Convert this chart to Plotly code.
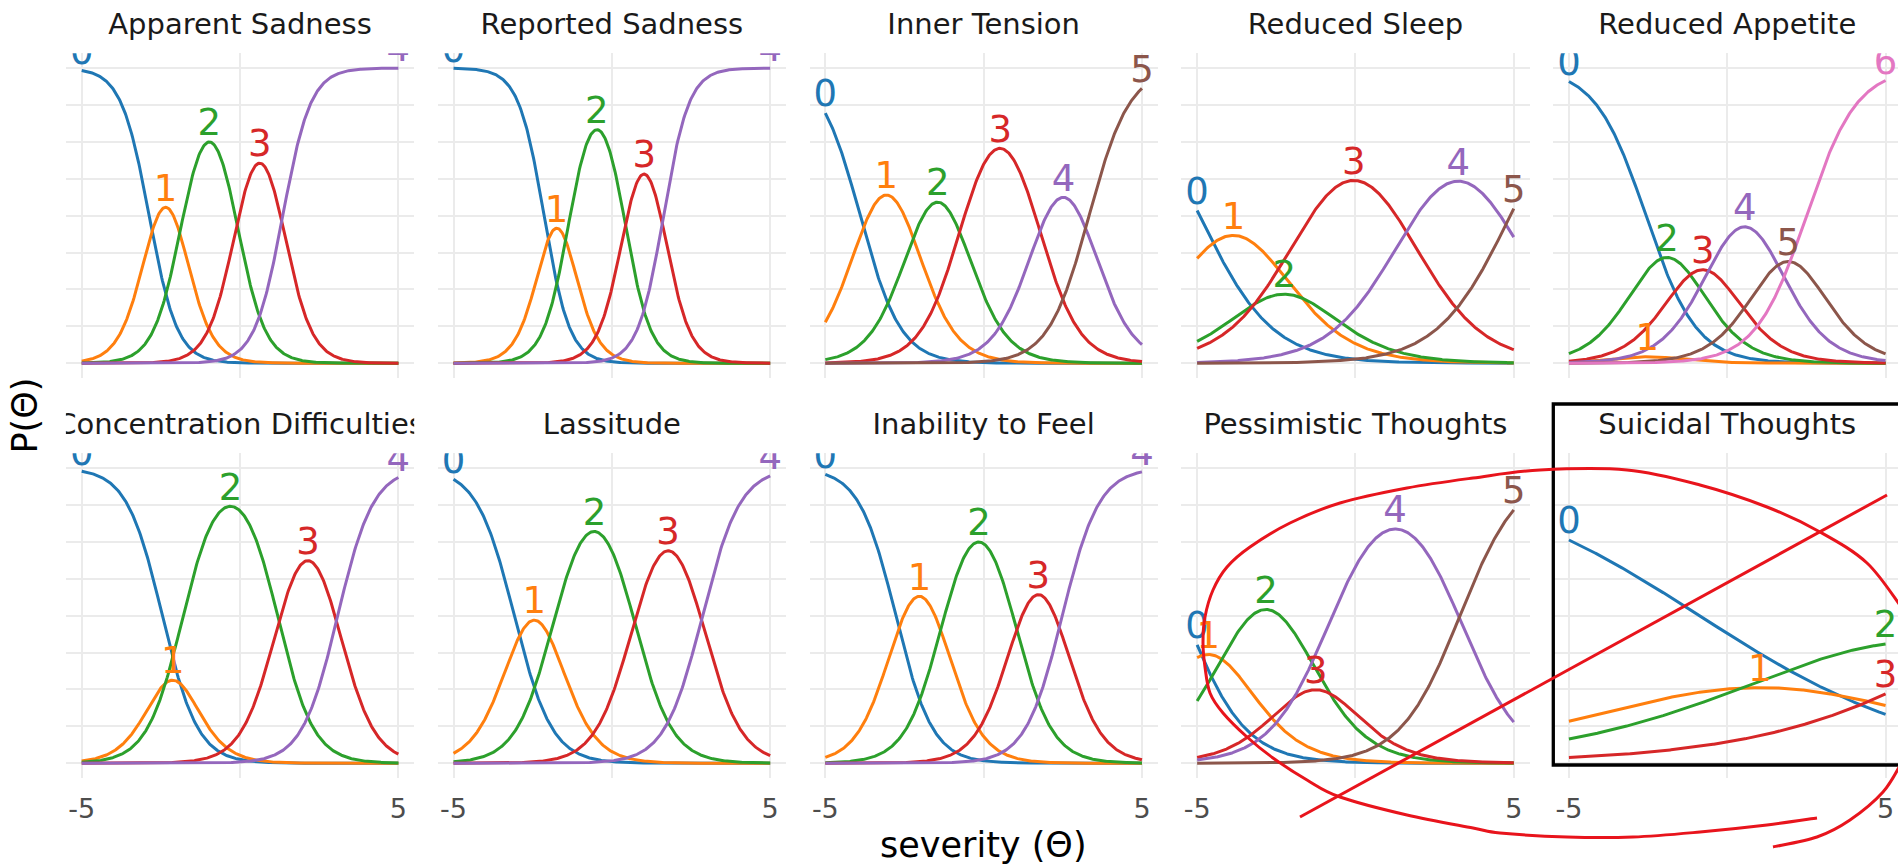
import numpy as np
import plotly.graph_objects as go

# -------------------------------
# item trace lines (graded response model)
# slopes / thresholds
# -------------------------------
items = [
    "Apparent Sadness", "Reported Sadness", "Inner Tension", "Reduced Sleep",
    "Reduced Appetite", "Concentration Difficulties", "Lassitude",
    "Inability to Feel", "Pessimistic Thoughts", "Suicidal Thoughts",
]
slopes = [2.26, 2.47, 1.56, 0.875, 1.25, 1.78, 1.68, 1.72, 1.06, 0.275]
thresholds = [
    [-2.87, -1.83, -0.11, 1.35],
    [-2.14, -1.34, 0.40, 1.63],
    [-3.90, -2.24, -0.67, 1.70, 3.33],
    [-4.92, -2.80, -1.71, 1.60, 4.89],
    [-2.57, -2.50, -1.30, -0.25, 1.35, 2.50],
    [-2.455, -1.805, 1.195, 3.085],
    [-3.08, -1.82, 0.70, 2.86],
    [-2.775, -1.285, 0.975, 2.485],
    [-5.38, -3.92, -1.74, -0.78, 3.30],
    [-0.88, 2.93, 9.30],
]
theta_min, theta_max = -5, 5
x_tick_vals = [-5, 0, 5]
x_tick_text = ["-5", "", "5"]
cat_colors = ["#1f77b4", "#ff7f0e", "#2ca02c", "#d62728", "#9467bd", "#8c564b", "#e377c2"]

W, H = 1902, 864
theta = np.linspace(theta_min, theta_max, 401)


def category_probs(a, bs):
    # cumulative P(X >= k), then differences
    star = [np.ones_like(theta)]
    star += [1 / (1 + np.exp(-a * (theta - b))) for b in bs]
    star.append(np.zeros_like(theta))
    return [star[k] - star[k + 1] for k in range(len(bs) + 1)]


def px_dom_x(x0, x1):
    return [x0 / W, min(x1 / W, 1.0)]


def px_dom_y(top, bottom):
    return [1 - bottom / H, 1 - top / H]


fig = go.Figure()
layout = dict(
    width=W, height=H, autosize=False,
    margin=dict(l=0, r=0, t=0, b=0),
    paper_bgcolor="white", plot_bgcolor="white",
    showlegend=False,
    font=dict(family="DejaVu Sans"),
)

panel_w = 348.3
col_step = 371.8
label_lift = 0.054  # label sits just above the curve maximum

for i, name in enumerate(items):
    r, c = divmod(i, 5)
    left = 65.9 + col_step * c
    top = 53.3 + 400 * r
    bottom = 378.0 + 400 * r
    k = i + 1
    xs = "" if k == 1 else str(k)

    probs = category_probs(slopes[i], thresholds[i])
    for j, p in enumerate(probs):
        fig.add_trace(go.Scatter(
            x=theta, y=p, mode="lines", xaxis="x" + xs, yaxis="y" + xs,
            line=dict(color=cat_colors[j], width=3), hoverinfo="skip",
        ))
    for j, p in enumerate(probs):
        m = int(np.argmax(p))
        fig.add_trace(go.Scatter(
            x=[theta[m]], y=[p[m] + label_lift], mode="text", text=[str(j)],
            textposition="middle center", cliponaxis=True,
            textfont=dict(family="DejaVu Sans", size=37, color=cat_colors[j]),
            xaxis="x" + xs, yaxis="y" + xs, hoverinfo="skip",
        ))

    layout["xaxis" + xs] = dict(
        domain=px_dom_x(left, left + panel_w), anchor="y" + xs,
        range=[-5.5, 5.5], tickvals=x_tick_vals, ticktext=x_tick_text,
        showticklabels=(r == 1), ticks="outside" if r == 1 else "",
        ticklen=7, tickcolor="rgba(0,0,0,0)",
        tickfont=dict(family="DejaVu Sans", size=27, color="#4D4D4D"),
        showgrid=True, gridcolor="#EBEBEB", gridwidth=2,
        zeroline=False, showline=False,
    )
    layout["yaxis" + xs] = dict(
        domain=px_dom_y(top, bottom), anchor="x" + xs,
        range=[-0.05, 1.05], tickvals=list(np.arange(0, 1.01, 0.125)),
        showticklabels=False, showgrid=True, gridcolor="#EBEBEB", gridwidth=2,
        zeroline=False, showline=False,
    )

    # strip title on its own clipped axis so long names get cut at panel edges
    sk = str(k + 10)
    fig.add_trace(go.Scatter(
        x=[0.5], y=[27], mode="text", text=[name], textposition="middle center",
        cliponaxis=True, hoverinfo="skip",
        textfont=dict(family="DejaVu Sans", size=29, color="#1A1A1A"),
        xaxis="x" + sk, yaxis="y" + sk,
    ))
    layout["xaxis" + sk] = dict(domain=px_dom_x(left, left + panel_w), anchor="y" + sk,
                                range=[0, 1], visible=False, fixedrange=True)
    layout["yaxis" + sk] = dict(domain=px_dom_y(400 * r, 53.3 + 400 * r), anchor="x" + sk,
                                range=[53.3, 0], visible=False, fixedrange=True)

fig.update_layout(**layout)

fig.add_annotation(text="severity (Θ)", x=983.6 / W, y=1 - 845 / H, xref="paper", yref="paper",
                   xanchor="center", yanchor="middle", showarrow=False,
                   font=dict(family="DejaVu Sans", size=35, color="black"))
fig.add_annotation(text="P(Θ)", x=25 / W, y=1 - 415.6 / H, xref="paper", yref="paper",
                   xanchor="center", yanchor="middle", textangle=-90, showarrow=False,
                   font=dict(family="DejaVu Sans", size=35, color="black"))


# hand-drawn markup on top of the chart
def smooth_path(pts):
    P = [(x / W, 1 - y / H) for x, y in pts]
    d = "M {:.5f},{:.5f}".format(*P[0])
    for n in range(len(P) - 1):
        p0 = P[n - 1] if n > 0 else P[n]
        p1, p2 = P[n], P[n + 1]
        p3 = P[n + 2] if n + 2 < len(P) else P[n + 1]
        c1 = (p1[0] + (p2[0] - p0[0]) / 6, p1[1] + (p2[1] - p0[1]) / 6)
        c2 = (p2[0] - (p3[0] - p1[0]) / 6, p2[1] - (p3[1] - p1[1]) / 6)
        d += " C {:.5f},{:.5f} {:.5f},{:.5f} {:.5f},{:.5f}".format(*c1, *c2, *p2)
    return d


red = "#e8141c"
loop_pts = [(1817, 818), (1767, 825), (1700, 832), (1633, 837), (1567, 837), (1500, 833),
            (1473, 828), (1407, 815), (1340, 797), (1307, 780), (1273, 758), (1247, 737),
            (1223, 713), (1210, 693), (1205, 667), (1203, 643), (1205, 617), (1213, 590),
            (1227, 567), (1250, 547), (1290, 523), (1340, 503), (1407, 488), (1473, 478),
            (1540, 470), (1627, 470), (1700, 485), (1767, 507), (1820, 532), (1867, 563),
            (1902, 608)]
tail_pts = [(1902, 762), (1883, 792), (1850, 820), (1817, 837), (1773, 847)]

fig.add_shape(type="rect", xref="paper", yref="paper",
              x0=1553.3 / W, x1=1912 / W, y0=1 - 765 / H, y1=1 - 404 / H,
              line=dict(color="black", width=3.3), layer="above")
fig.add_shape(type="path", xref="paper", yref="paper", path=smooth_path(loop_pts),
              line=dict(color=red, width=3), layer="above")
fig.add_shape(type="path", xref="paper", yref="paper", path=smooth_path(tail_pts),
              line=dict(color=red, width=3), layer="above")
fig.add_shape(type="line", xref="paper", yref="paper",
              x0=1300 / W, y0=1 - 817 / H, x1=1887 / W, y1=1 - 495 / H,
              line=dict(color=red, width=3), layer="above")

fig.write_html(
    "out.html",
    config={"displayModeBar": False},
    post_script="document.body.style.margin='0';document.body.style.overflow='hidden';",
)
